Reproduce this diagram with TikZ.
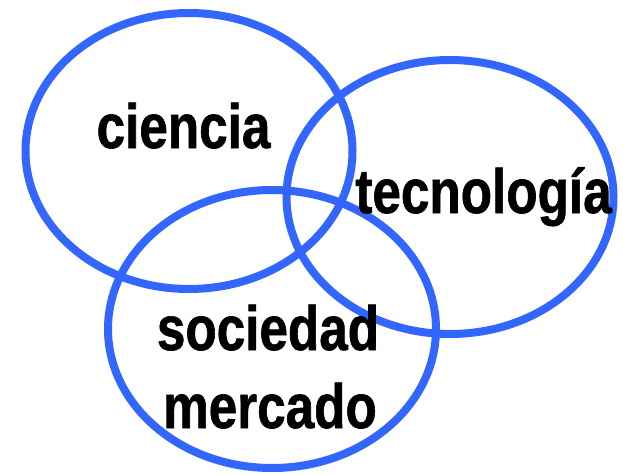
\documentclass[tikz,border=0pt]{standalone}
\usepackage{fontspec}
\setmainfont{Liberation Sans}[FakeStretch=0.82,BoldFeatures={FakeBold=1}]
\usepackage{tikz}

\definecolor{vennblue}{RGB}{51,102,255}

\begin{document}
\begin{tikzpicture}[x=1pt,y=-1pt,
        ring/.style={draw=vennblue,line width=8pt},
        word/.style={anchor=base,inner sep=0pt,text=black,font=\fontsize{62.5}{70}\selectfont\bfseries}
      ]
      \useasboundingbox (0,0) rectangle (623,474);
      \draw[ring] (189,151) ellipse [x radius=163.5,y radius=138];
      \draw[ring] (450,197) ellipse [x radius=163.5,y radius=137];
      \draw[ring] (272,329) ellipse [x radius=164,y radius=139];
      \node[word] (cien) at (183.5,148) {ciencia};
      \node[word] (tec) at (483.5,213) {tecnología};
      \node[word] (soc) at (268,350) {sociedad};
      \node[word] (mer) at (270,428) {mercado};
    \end{tikzpicture}
\end{document}
